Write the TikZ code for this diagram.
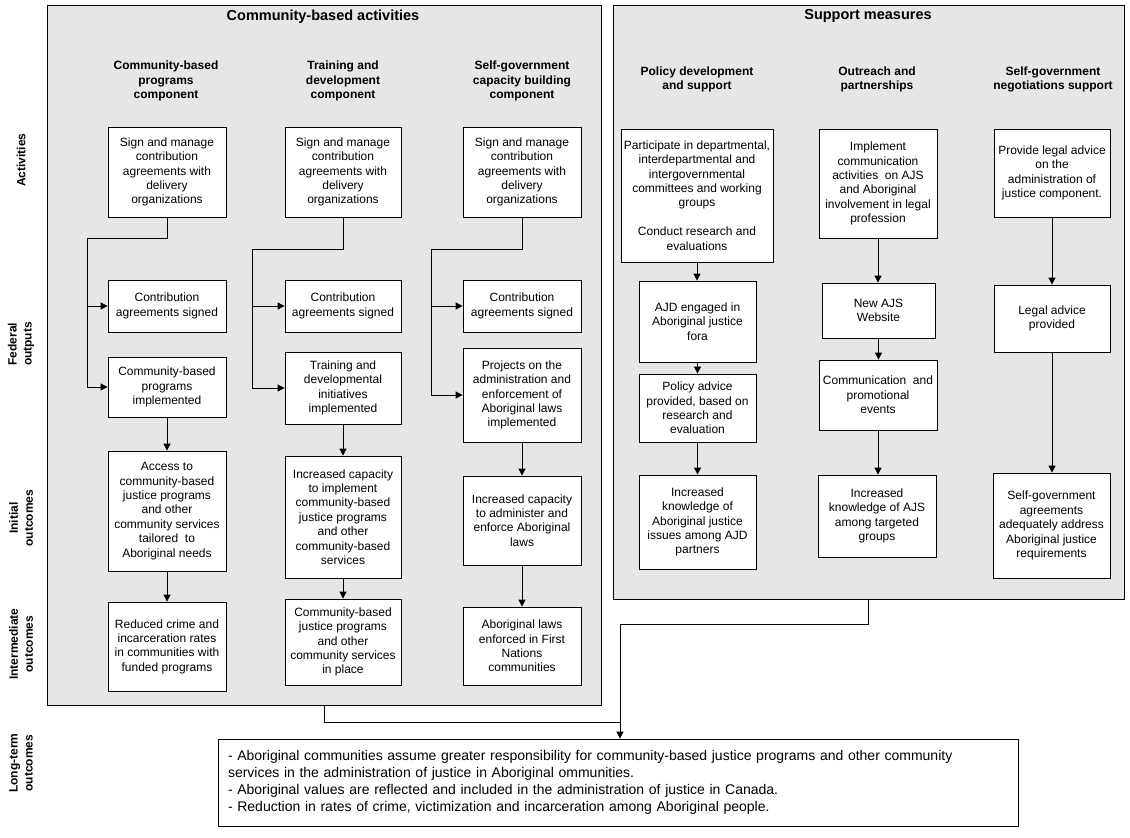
\documentclass[tikz,border=0pt]{standalone}
\usepackage{fontspec}
\setmainfont{Liberation Sans}
\usetikzlibrary{arrows.meta}
\definecolor{panelgray}{RGB}{230,230,230}
\newcommand\lmbox[7][box]{% style name x1 y1 x2 y2 text
  \pgfmathsetmacro\bw{#5-#3}\pgfmathsetmacro\bh{#6-#4}%
  \node[#1, minimum width=\bw pt, minimum height=\bh pt] (#2) at ({(#3+#5)/2},{(#4+#6)/2}) {#7};}
\begin{document}
\begin{tikzpicture}[x=1pt,y=-1pt,
  box/.style={draw, fill=white, line width=0.8pt, align=center, inner sep=1pt, font=\fontsize{12}{14.4}\selectfont},
  panel/.style={draw, fill=panelgray, line width=0.8pt, inner sep=0pt},
  hdr/.style={align=center, font=\bfseries\fontsize{12}{14.5}\selectfont},
  ttl/.style={font=\bfseries\fontsize{14.5}{16}\selectfont},
  lbl/.style={align=center, rotate=90, font=\bfseries\fontsize{12}{15}\selectfont},
  arr/.style={line width=0.8pt, -{Triangle[length=7pt,width=7pt]}},
  ln/.style={line width=0.8pt}]
\useasboundingbox (0,0) rectangle (1130,838);

% panels
\lmbox[panel]{lp}{47}{5}{601}{705}{}
\lmbox[panel]{rp}{613}{5}{1124}{599}{}
\node[ttl] (lpt) at (323,16.5) {Community-based activities};
\node[ttl] (rpt) at (868,16) {Support measures};

% row labels
\node[lbl] (l1) at (21,160) {Activities};
\node[lbl] (l2) at (21,344) {Federal\\outputs};
\node[lbl] (l3) at (21,518) {Initial\\outcomes};
\node[lbl] (l4) at (21,644) {Intermediate\\outcomes};
\node[lbl] (l5) at (21,763) {Long-term\\outcomes};

% headers
\node[hdr] (h1) at (166,81) {Community-based\\programs\\component};
\node[hdr] (h2) at (343,81) {Training and\\development\\component};
\node[hdr] (h3) at (522,81) {Self-government\\capacity building\\component};
\node[hdr] (h4) at (697,79.5) {Policy development\\and support};
\node[hdr] (h5) at (877,79.5) {Outreach and\\partnerships};
\node[hdr] (h6) at (1053,79.5) {Self-government\\negotiations support};

% column 1
\lmbox{a1}{108}{127}{226}{217}{Sign and manage\\contribution\\agreements with\\delivery\\organizations}
\lmbox{c1}{108}{280}{226}{332}{Contribution\\agreements signed}
\lmbox{i1}{108}{357}{226}{417}{Community-based\\programs\\implemented}
\lmbox{o1}{108}{451}{226}{571}{Access to\\community-based\\justice programs\\and other\\community services\\tailored\ \ to\\Aboriginal needs}
\lmbox{m1}{108}{602}{226}{691}{Reduced crime and\\incarceration rates\\in communities with\\funded programs}
% column 2
\lmbox{a2}{285}{127}{401}{217}{Sign and manage\\contribution\\agreements with\\delivery\\organizations}
\lmbox{c2}{285}{280}{401}{332}{Contribution\\agreements signed}
\lmbox{i2}{285}{352}{401}{424}{Training and\\developmental\\initiatives\\implemented}
\lmbox{o2}{285}{456}{401}{578}{Increased capacity\\to implement\\community-based\\justice programs\\and other\\community-based\\services}
\lmbox{m2}{285}{599}{401}{685}{Community-based\\justice programs\\and other\\community services\\in place}
% column 3
\lmbox{a3}{463}{127}{581}{217}{Sign and manage\\contribution\\agreements with\\delivery\\organizations}
\lmbox{c3}{463}{280}{581}{332}{Contribution\\agreements signed}
\lmbox{i3}{463}{348}{581}{442}{Projects on the\\administration and\\enforcement of\\Aboriginal laws\\implemented}
\lmbox{o3}{463}{476}{581}{565}{Increased capacity\\to administer and\\enforce Aboriginal\\laws}
\lmbox{m3}{463}{607}{581}{685}{Aboriginal laws\\enforced in First\\Nations\\communities}

% support column 1
\lmbox{p1}{621}{129}{773}{262}{Participate in departmental,\\interdepartmental and\\intergovernmental\\committees and working\\groups\\[14.4pt]Conduct research and\\evaluations}
\lmbox{p2}{639}{281}{756}{362}{AJD engaged in\\Aboriginal justice\\fora}
\lmbox{p3}{639}{374}{756}{442}{Policy advice\\provided, based on\\research and\\evaluation}
\lmbox{p4}{639}{475}{756}{569}{Increased\\knowledge of\\Aboriginal justice\\issues among AJD\\partners}
% support column 2
\lmbox{q1}{819}{129}{937}{238}{Implement\\communication\\activities\ \ on AJS\\and Aboriginal\\involvement in legal\\profession}
\lmbox{q2}{822}{283}{935}{338}{New AJS\\Website}
\lmbox{q3}{819}{360}{937}{430}{Communication\ \ and\\promotional\\events}
\lmbox{q4}{818}{475}{936}{557}{Increased\\knowledge of AJS\\among targeted\\groups}
% support column 3
\lmbox{r1}{994}{129}{1110}{217}{Provide legal advice\\on the\\administration of\\justice component.}
\lmbox{r2}{994}{285}{1110}{352}{Legal advice\\provided}
\lmbox{r3}{993}{473}{1110}{578}{Self-government\\agreements\\adequately address\\Aboriginal justice\\requirements}

% long-term box
\node[draw, fill=white, line width=0.8pt, minimum width=800pt, minimum height=87pt,
  inner xsep=10pt, text width=780pt, align=left, font=\fontsize{14}{17}\selectfont]
  (lt) at (618,782.5) {- Aboriginal communities assume greater responsibility for community-based justice programs and other community\\
services in the administration of justice in Aboriginal ommunities.\\
- Aboriginal values are reflected and included in the administration of justice in Canada.\\
- Reduction in rates of crime, victimization and incarceration among Aboriginal people.};

% connectors, community-based columns
\coordinate (j1) at (87,238);
\coordinate (j2) at (252,249);
\coordinate (j3) at (431,249);
\draw[arr] (a1.south) |- (j1) |- (i1.west);
\draw[arr] (j1) |- (c1.west);
\draw[arr] (a2.south) |- (j2) |- (i2.west);
\draw[arr] (j2) |- (c2.west);
\draw[arr] (a3.south) |- (j3) |- (i3.west);
\draw[arr] (j3) |- (c3.west);
\foreach \u/\v in {i1/o1,o1/m1,i2/o2,o2/m2,i3/o3,o3/m3,p1/p2,p2/p3,p3/p4,q1/q2,q2/q3,q3/q4,r1/r2,r2/r3}
  \draw[arr] (\u.south) -- (\u.south |- \v.north);

% to long-term outcomes
\coordinate (k1) at (620,624);
\coordinate (k2) at (620,722);
\draw[arr] (rp.south) |- (k1) -- (k1 |- lt.north);
\draw[ln] (lp.south) |- (k2);
\end{tikzpicture}
\end{document}
